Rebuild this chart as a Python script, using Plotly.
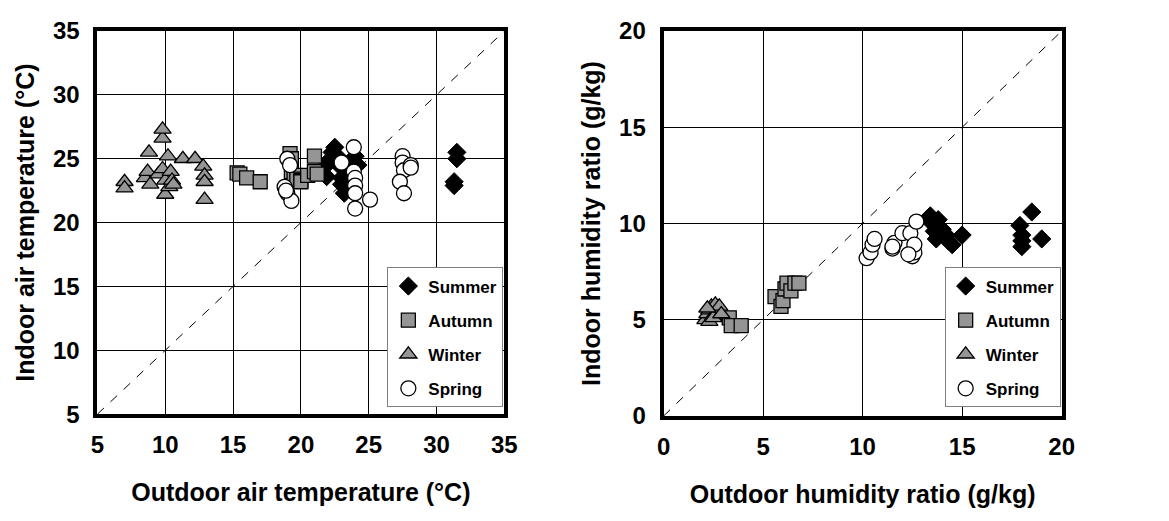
import plotly.graph_objects as go

# ---- Outdoor vs indoor air temperature (deg C) ----
t_summer_out = [21.8, 21.9, 22.0, 22.3, 22.5, 22.7, 22.8, 23.0, 23.0, 23.2, 23.4, 23.5, 23.8, 24.0, 24.2, 23.8,
                31.5, 31.5, 31.3, 31.3]
t_summer_in = [24.4, 23.6, 24.8, 25.5, 25.9, 25.2, 24.5, 23.5, 23.0, 22.3, 22.8, 24.3, 24.8, 25.2, 24.5, 22.5,
               25.5, 25.0, 23.2, 22.9]

t_autumn_out = [15.3, 15.5, 16.0, 17.0, 19.2, 19.3, 19.3, 19.5, 19.7, 20.0, 20.0, 20.5, 21.0, 21.0, 21.2]
t_autumn_in = [23.9, 23.8, 23.5, 23.2, 25.4, 25.0, 24.0, 23.7, 23.4, 23.3, 23.2, 23.7, 25.2, 24.0, 23.8]

t_winter_out = [7.0, 7.0, 8.5, 8.7, 8.8, 8.9, 9.5, 9.8, 9.8, 9.8, 10.0, 10.0, 10.2, 10.3, 10.4, 10.5, 10.6,
                11.3, 12.2, 12.8, 12.9, 12.9, 12.9]
t_winter_in = [23.2, 22.7, 23.5, 24.0, 25.5, 23.0, 23.8, 26.6, 27.3, 24.2, 22.2, 23.3, 25.2, 22.8, 24.0, 23.3, 23.0,
               25.0, 25.0, 24.4, 23.7, 23.2, 21.8]

t_spring_out = [19.0, 19.2, 18.8, 19.0, 19.3, 18.9, 23.0, 23.9, 23.9, 24.0, 24.0, 24.0, 24.0, 25.1,
                27.5, 27.5, 27.6, 28.1, 28.1, 27.3, 27.6]
t_spring_in = [25.0, 24.5, 22.8, 22.3, 21.7, 22.5, 24.7, 25.9, 24.0, 23.5, 22.9, 22.3, 21.1, 21.8,
               25.2, 24.7, 24.1, 24.5, 24.3, 23.2, 22.3]

# ---- Outdoor vs indoor humidity ratio (g/kg) ----
w_summer_out = [13.3, 13.4, 13.5, 13.6, 13.7, 13.8, 14.0, 14.2, 14.3, 14.5, 15.0, 17.9, 18.0, 18.0, 18.0, 18.5, 19.0]
w_summer_in = [10.3, 10.4, 10.0, 9.6, 9.2, 10.2, 9.7, 9.4, 9.1, 8.9, 9.4, 9.9, 9.4, 9.1, 8.8, 10.6, 9.2]

w_autumn_out = [3.3, 3.4, 3.9, 5.6, 5.9, 6.0, 6.1, 6.2, 6.4, 6.6, 6.8]
w_autumn_in = [5.1, 4.7, 4.7, 6.2, 5.7, 6.0, 6.6, 6.9, 6.5, 6.9, 6.9]

w_winter_out = [2.1, 2.2, 2.3, 2.4, 2.5, 2.6, 2.7, 2.8, 2.3, 2.5, 2.9, 2.2]
w_winter_in = [5.0, 5.3, 5.5, 5.7, 5.2, 5.8, 5.4, 5.7, 4.9, 5.1, 5.3, 5.6]

w_spring_out = [10.2, 10.4, 10.5, 10.6, 11.5, 11.6, 11.5, 12.0, 12.4, 12.5, 12.6, 12.6, 12.7, 12.3]
w_spring_in = [8.2, 8.5, 8.9, 9.2, 8.7, 9.0, 8.8, 9.5, 9.5, 8.3, 8.5, 8.9, 10.1, 8.4]

season_names = ["Summer", "Autumn", "Winter", "Spring"]
temp_range = [5, 35]
temp_ticks = [5, 10, 15, 20, 25, 30, 35]
hum_range = [0, 20]
hum_ticks = [0, 5, 10, 15, 20]

FONT = "Liberation Sans, Arial, sans-serif"
GRAY = "#959595"

styles = {
    "Summer": dict(symbol="diamond", size=14, color="black", line=dict(color="black", width=1)),
    "Autumn": dict(symbol="square", size=14, color=GRAY, line=dict(color="black", width=1.3)),
    "Winter": dict(symbol="triangle-up", size=15, color=GRAY, line=dict(color="black", width=1.3)),
    "Spring": dict(symbol="circle", size=15, color="white", line=dict(color="black", width=1.3)),
}


def bold(s):
    return "<b>" + str(s) + "</b>"


fig = go.Figure()

# 1:1 reference lines
fig.add_trace(go.Scatter(x=temp_range, y=temp_range, mode="lines", showlegend=False,
                         line=dict(color="black", width=1, dash="dash"), xaxis="x", yaxis="y"))
fig.add_trace(go.Scatter(x=hum_range, y=hum_range, mode="lines", showlegend=False,
                         line=dict(color="black", width=1, dash="dash"), xaxis="x2", yaxis="y2"))

temp_sets = [(t_summer_out, t_summer_in), (t_autumn_out, t_autumn_in),
             (t_winter_out, t_winter_in), (t_spring_out, t_spring_in)]
hum_sets = [(w_summer_out, w_summer_in), (w_autumn_out, w_autumn_in),
            (w_winter_out, w_winter_in), (w_spring_out, w_spring_in)]

for name, (xs, ys) in zip(season_names, temp_sets):
    fig.add_trace(go.Scatter(x=xs, y=ys, mode="markers", name=bold(name), marker=styles[name],
                             xaxis="x", yaxis="y", legend="legend", legendgroup="t" + name))
for name, (xs, ys) in zip(season_names, hum_sets):
    fig.add_trace(go.Scatter(x=xs, y=ys, mode="markers", name=bold(name), marker=styles[name],
                             xaxis="x2", yaxis="y2", legend="legend2", legendgroup="h" + name))

W, H = 1169, 521


def px_x(p):
    return p / W


def px_y(p):
    return 1 - p / H


tick_font = dict(family=FONT, size=24, color="black")
title_font = dict(family=FONT, size=25, color="black")

axis_common = dict(showline=True, linewidth=4, linecolor="black", mirror=True,
                   showgrid=True, gridcolor="black", gridwidth=1, zeroline=False,
                   ticks="", tickfont=tick_font, title_font=title_font)

legend_common = dict(bgcolor="white", bordercolor="#7f7f7f", borderwidth=1,
                     font=dict(family=FONT, size=17, color="black"),
                     traceorder="grouped", tracegroupgap=9, itemwidth=30,
                     xanchor="right", yanchor="bottom")

fig.update_layout(
    width=W, height=H,
    margin=dict(l=0, r=0, t=0, b=0),
    plot_bgcolor="white", paper_bgcolor="white",
    font=dict(family=FONT, color="black"),
    xaxis=dict(domain=[px_x(92), px_x(506)], range=temp_range, tickvals=temp_ticks,
               ticktext=[bold(v) for v in temp_ticks], ticklabelstandoff=6,
               anchor="y", title=dict(text=bold("Outdoor air temperature (°C)"), standoff=28), **axis_common),
    yaxis=dict(domain=[px_y(422), px_y(18)], range=temp_range, tickvals=temp_ticks,
               ticktext=[bold(v) for v in temp_ticks], ticklabelstandoff=9,
               anchor="x", title=dict(text=bold("Indoor air temperature (°C)"), standoff=12), **axis_common),
    xaxis2=dict(domain=[px_x(668), px_x(1073)], range=hum_range, tickvals=hum_ticks,
                ticktext=[bold(v) for v in hum_ticks], ticklabelstandoff=6,
                anchor="y2", title=dict(text=bold("Outdoor humidity ratio (g/kg)"), standoff=28), **axis_common),
    yaxis2=dict(domain=[px_y(424), px_y(18)], range=hum_range, tickvals=hum_ticks,
                ticktext=[bold(v) for v in hum_ticks], ticklabelstandoff=9,
                anchor="x2", title=dict(text=bold("Indoor humidity ratio (g/kg)"), standoff=12), **axis_common),
    legend=dict(x=px_x(505), y=px_y(415), **legend_common),
    legend2=dict(x=px_x(1072), y=px_y(415), **legend_common),
)

fig.write_html("out.html")
